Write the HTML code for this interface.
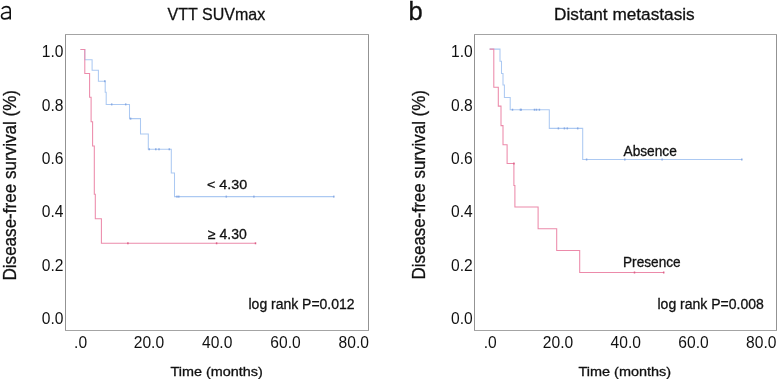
<!DOCTYPE html><html><head><meta charset="utf-8"><style>html,body{margin:0;padding:0;background:#fff;width:777px;height:379px;overflow:hidden}svg{display:block;will-change:transform}text{font-family:"Liberation Sans",sans-serif}</style></head><body>
<svg width="777" height="379" viewBox="0 0 777 379">
<rect x="0" y="0" width="777" height="379" fill="#fff"/>
<path d="M65.0,34.5H369.0M65.0,330.5H369.0" fill="none" stroke="#a4a4a4" stroke-width="1.0"/>
<path d="M65.5,35.0V330.0M368.5,35.0V330.0" fill="none" stroke="#939393" stroke-width="1.0"/>
<path d="M474.0,34.5H777.0M474.0,330.5H777.0" fill="none" stroke="#a4a4a4" stroke-width="1.0"/>
<path d="M474.5,35.0V330.0M776.5,35.0V330.0" fill="none" stroke="#939393" stroke-width="1.0"/>
<path d="M80.5,49.4 H84.8 V59.7 H92.1 V70.3 H98.4 V81.2 H105.2 V92.3 H106.2 V104.4 H129.5 V118.6 H140.5 V133.9 H148.3 V149.3 H171.3 V172.9 H174.5 V196.6 H333.8" fill="none" stroke="#acc9f2" stroke-width="1.05" stroke-linejoin="miter" stroke-linecap="butt"/>
<rect x="104.05" y="80.25" width="1.5" height="1.9" fill="#86a8e2"/>
<rect x="110.95" y="103.45" width="1.5" height="1.9" fill="#86a8e2"/>
<rect x="124.95" y="103.45" width="1.5" height="1.9" fill="#86a8e2"/>
<rect x="129.85" y="117.65" width="1.5" height="1.9" fill="#86a8e2"/>
<rect x="148.45" y="148.35" width="1.5" height="1.9" fill="#86a8e2"/>
<rect x="155.05" y="148.35" width="1.5" height="1.9" fill="#86a8e2"/>
<rect x="158.25" y="148.35" width="1.5" height="1.9" fill="#86a8e2"/>
<rect x="168.55" y="148.35" width="1.5" height="1.9" fill="#86a8e2"/>
<rect x="176.25" y="195.65" width="1.5" height="1.9" fill="#86a8e2"/>
<rect x="178.05" y="195.65" width="1.5" height="1.9" fill="#86a8e2"/>
<rect x="225.55" y="195.65" width="1.5" height="1.9" fill="#86a8e2"/>
<rect x="253.15" y="195.65" width="1.5" height="1.9" fill="#86a8e2"/>
<rect x="333.05" y="195.65" width="1.5" height="1.9" fill="#86a8e2"/>
<path d="M80.5,49.4 H84.8 V73.5 H89.6 V97.3 H91.1 V121.7 H92.6 V146 H94.3 V194.3 H95.3 V218.8 H101.4 V243.3 H255.5" fill="none" stroke="#ec8aaa" stroke-width="1.05" stroke-linejoin="miter" stroke-linecap="butt"/>
<rect x="127.15" y="242.35" width="1.5" height="1.9" fill="#dc5f86"/>
<rect x="215.85" y="242.35" width="1.5" height="1.9" fill="#dc5f86"/>
<rect x="254.75" y="242.35" width="1.5" height="1.9" fill="#dc5f86"/>
<path d="M489.6,49.1 H500.0 V61.3 H501.5 V73.5 H503.0 V85.0 H504.4 V97.4 H510.2 V109.7 H549.3 V128.4 H582.7 V159.5 H741.8" fill="none" stroke="#acc9f2" stroke-width="1.05" stroke-linejoin="miter" stroke-linecap="butt"/>
<rect x="511.75" y="108.75" width="1.5" height="1.9" fill="#86a8e2"/>
<rect x="519.65" y="108.75" width="1.5" height="1.9" fill="#86a8e2"/>
<rect x="520.45" y="108.75" width="1.5" height="1.9" fill="#86a8e2"/>
<rect x="533.75" y="108.75" width="1.5" height="1.9" fill="#86a8e2"/>
<rect x="535.75" y="108.75" width="1.5" height="1.9" fill="#86a8e2"/>
<rect x="538.65" y="108.75" width="1.5" height="1.9" fill="#86a8e2"/>
<rect x="557.65" y="127.45" width="1.5" height="1.9" fill="#86a8e2"/>
<rect x="563.65" y="127.45" width="1.5" height="1.9" fill="#86a8e2"/>
<rect x="566.55" y="127.45" width="1.5" height="1.9" fill="#86a8e2"/>
<rect x="576.95" y="127.45" width="1.5" height="1.9" fill="#86a8e2"/>
<rect x="585.85" y="158.55" width="1.5" height="1.9" fill="#86a8e2"/>
<rect x="624.05" y="158.55" width="1.5" height="1.9" fill="#86a8e2"/>
<rect x="661.35" y="158.55" width="1.5" height="1.9" fill="#86a8e2"/>
<rect x="741.05" y="158.55" width="1.5" height="1.9" fill="#86a8e2"/>
<path d="M489.6,49.1 H493.8 V87.3 H498.3 V106.1 H501.0 V125.6 H503.0 V144.7 H507.1 V163.5 H513.9 V185.5 H514.9 V207.0 H538.1 V228.7 H556.7 V250.5 H579.7 V272.5 H663.7" fill="none" stroke="#ec8aaa" stroke-width="1.05" stroke-linejoin="miter" stroke-linecap="butt"/>
<rect x="513.15" y="162.55" width="1.5" height="1.9" fill="#dc5f86"/>
<rect x="633.75" y="271.55" width="1.5" height="1.9" fill="#dc5f86"/>
<rect x="662.95" y="271.55" width="1.5" height="1.9" fill="#dc5f86"/>
<text x="408.50" y="19.60" font-size="25.760" fill="#111" stroke="#111" stroke-width="0.3" textLength="14.23" lengthAdjust="spacingAndGlyphs">b</text>
<text x="167.50" y="19.50" font-size="17.322" fill="#111" stroke="#111" stroke-width="0.3" textLength="97.72" lengthAdjust="spacingAndGlyphs">VTT SUVmax</text>
<text x="554.00" y="19.60" font-size="17.176" fill="#111" stroke="#111" stroke-width="0.3" textLength="140.73" lengthAdjust="spacingAndGlyphs">Distant metastasis</text>
<text x="207.00" y="189.20" font-size="13.630" fill="#111" stroke="#111" stroke-width="0.3" textLength="40.12" lengthAdjust="spacingAndGlyphs">&lt; 4.30</text>
<text x="208.00" y="239.30" font-size="14.060" fill="#111" stroke="#111" stroke-width="0.3" textLength="38.80" lengthAdjust="spacingAndGlyphs">≥ 4.30</text>
<text x="248.50" y="308.80" font-size="13.950" fill="#111" stroke="#111" stroke-width="0.3" textLength="106.08" lengthAdjust="spacingAndGlyphs">log rank P=0.012</text>
<text x="657.50" y="309.00" font-size="13.950" fill="#111" stroke="#111" stroke-width="0.3" textLength="106.27" lengthAdjust="spacingAndGlyphs">log rank P=0.008</text>
<text x="623.50" y="155.50" font-size="13.812" fill="#111" stroke="#111" stroke-width="0.3" textLength="53.35" lengthAdjust="spacingAndGlyphs">Absence</text>
<text x="623.00" y="267.00" font-size="13.974" fill="#111" stroke="#111" stroke-width="0.3" textLength="57.62" lengthAdjust="spacingAndGlyphs">Presence</text>
<text x="170.50" y="375.50" font-size="13.137" fill="#111" stroke="#111" stroke-width="0.3" textLength="92.25" lengthAdjust="spacingAndGlyphs">Time (months)</text>
<text x="578.50" y="375.50" font-size="13.137" fill="#111" stroke="#111" stroke-width="0.3" textLength="92.65" lengthAdjust="spacingAndGlyphs">Time (months)</text>
<text x="63.40" y="57.39" font-size="15.600" fill="#111" text-anchor="end">1.0</text>
<text x="472.80" y="57.39" font-size="15.600" fill="#111" text-anchor="end">1.0</text>
<text x="63.40" y="110.67" font-size="15.600" fill="#111" text-anchor="end">0.8</text>
<text x="472.80" y="110.67" font-size="15.600" fill="#111" text-anchor="end">0.8</text>
<text x="63.40" y="163.95" font-size="15.600" fill="#111" text-anchor="end">0.6</text>
<text x="472.80" y="163.95" font-size="15.600" fill="#111" text-anchor="end">0.6</text>
<text x="63.40" y="217.23" font-size="15.600" fill="#111" text-anchor="end">0.4</text>
<text x="472.80" y="217.23" font-size="15.600" fill="#111" text-anchor="end">0.4</text>
<text x="63.40" y="270.51" font-size="15.600" fill="#111" text-anchor="end">0.2</text>
<text x="472.80" y="270.51" font-size="15.600" fill="#111" text-anchor="end">0.2</text>
<text x="63.40" y="323.79" font-size="15.600" fill="#111" text-anchor="end">0.0</text>
<text x="472.80" y="323.79" font-size="15.600" fill="#111" text-anchor="end">0.0</text>
<text x="80.60" y="348.40" font-size="15.600" fill="#111" text-anchor="middle">.0</text>
<text x="490.30" y="348.40" font-size="15.600" fill="#111" text-anchor="middle">.0</text>
<text x="148.90" y="348.40" font-size="15.600" fill="#111" text-anchor="middle">20.0</text>
<text x="558.05" y="348.40" font-size="15.600" fill="#111" text-anchor="middle">20.0</text>
<text x="217.20" y="348.40" font-size="15.600" fill="#111" text-anchor="middle">40.0</text>
<text x="625.80" y="348.40" font-size="15.600" fill="#111" text-anchor="middle">40.0</text>
<text x="285.50" y="348.40" font-size="15.600" fill="#111" text-anchor="middle">60.0</text>
<text x="693.55" y="348.40" font-size="15.600" fill="#111" text-anchor="middle">60.0</text>
<text x="353.80" y="348.40" font-size="15.600" fill="#111" text-anchor="middle">80.0</text>
<text x="761.30" y="348.40" font-size="15.600" fill="#111" text-anchor="middle">80.0</text>
<text x="15.80" y="280.50" font-size="18.195" fill="#111" stroke="#111" stroke-width="0.3" textLength="190.53" lengthAdjust="spacingAndGlyphs" transform="rotate(-90 15.80 280.50)">Disease-free survival (%)</text>
<text x="425.40" y="279.50" font-size="18.195" fill="#111" stroke="#111" stroke-width="0.3" textLength="189.53" lengthAdjust="spacingAndGlyphs" transform="rotate(-90 425.40 279.50)">Disease-free survival (%)</text>
<path d="M1.9,8.9 C3.0,7.3 4.5,6.65 6.0,6.65 C8.7,6.65 10.2,7.8 10.2,10.3 V19.6 M10.2,12.2 C5.8,12.2 1.5,12.8 1.5,16.0 C1.5,18.0 2.8,18.85 4.7,18.85 C6.9,18.85 9.0,17.9 10.2,16.6" fill="none" stroke="#111" stroke-width="1.6"/>
</svg></body></html>
